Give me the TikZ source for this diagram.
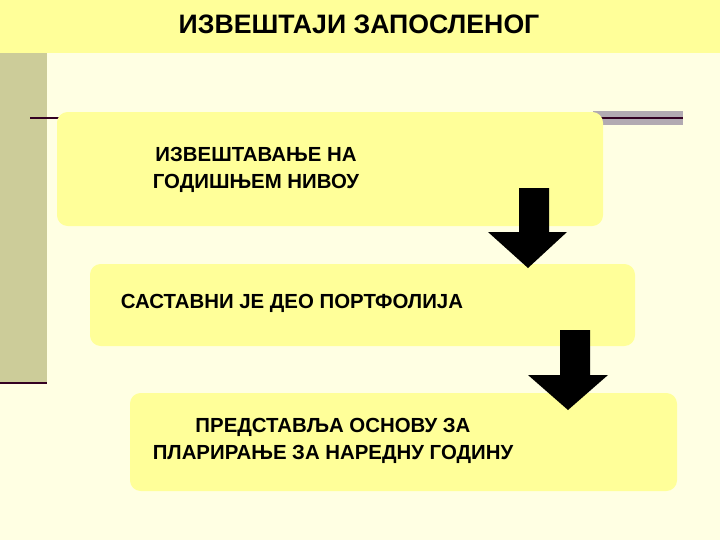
\documentclass[tikz,border=0pt]{standalone}
\usepackage{fontspec}
\setmainfont{Liberation Sans}
\usetikzlibrary{shapes.arrows}
\definecolor{bg}{HTML}{FFFFE3}
\definecolor{band}{HTML}{FFFF99}
\definecolor{boxc}{HTML}{FFFF99}
\definecolor{strip}{HTML}{CCCC99}
\definecolor{dk}{HTML}{330022}
\definecolor{gr}{HTML}{B2AAB2}
\tikzset{box/.style={fill=boxc,rounded corners=8pt},
 lbl/.style={font=\bfseries\fontsize{15.3}{20}\selectfont,align=center,inner sep=0pt},
 darr/.style={fill=black}}
\begin{document}
\begin{tikzpicture}[x=0.75pt,y=-0.75pt]
\useasboundingbox (0,0) rectangle (720,540);
\fill[bg] (0,0) rectangle (720,540);
\fill[band] (0,0) rectangle (720,53);
\node[font=\bfseries\fontsize{20}{24}\selectfont] (title) at (359,24) {ИЗВЕШТАЈИ ЗАПОСЛЕНОГ};
\fill[strip] (0,53) rectangle (47,383);
\draw[dk,line width=2pt] (0,383) -- (47,383);
\fill[gr] (593,111) rectangle (683,125);
\draw[dk,line width=1.2pt] (593,118) -- (683,118);
\draw[dk,line width=1.2pt] (30,118) -- (60,118);
\path[box] (57,112) rectangle (603,226);
\node[lbl] (t1) at (256,170) {ИЗВЕШТАВАЊЕ НА\\ГОДИШЊЕМ НИВОУ};
\path[box] (90,264) rectangle (635,346);
\node[lbl] (t2) at (292,303) {САСТАВНИ ЈЕ ДЕО ПОРТФОЛИЈА};
\path[box] (130,393) rectangle (677,491);
\node[lbl] (t3) at (333,441) {ПРЕДСТАВЉА ОСНОВУ ЗА\\ПЛАРИРАЊЕ ЗА НАРЕДНУ ГОДИНУ};
\fill[darr] (519,188) -- (549,188) -- (549,232) -- (567,232) -- (528,268) -- (488,232) -- (519,232) -- cycle;
\fill[darr] (560,330) -- (590,330) -- (590,375) -- (608,375) -- (568,410) -- (528,375) -- (560,375) -- cycle;
\end{tikzpicture}
\end{document}
